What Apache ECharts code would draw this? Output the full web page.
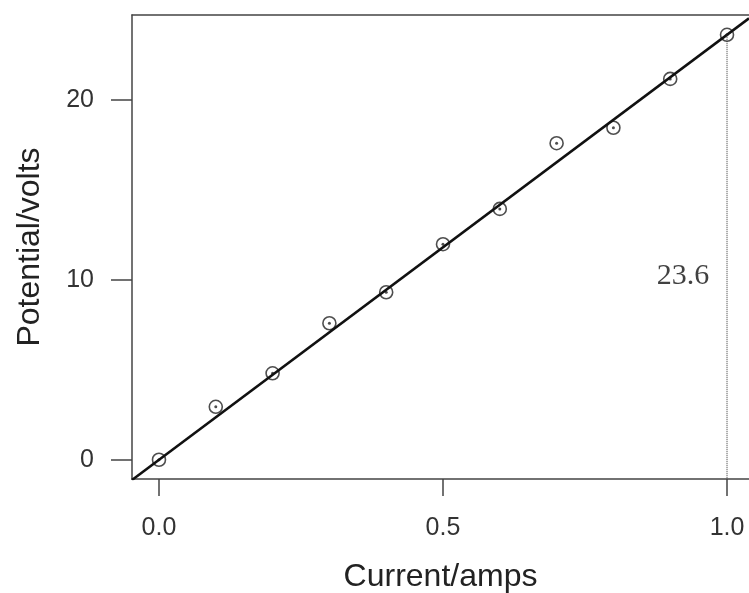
<!DOCTYPE html>
<html lang="en">
<head>
    <meta charset="UTF-8">
    <title>Potential vs current</title>
    <script src="https://cdn.jsdelivr.net/npm/echarts@6/dist/echarts.min.js"></script>
    <style>
        html, body { margin: 0; padding: 0; background: #fff; }
        #chart { width: 749px; height: 593px; }
    </style>
</head>
<body>
    <div id="chart"></div>
    <script>
        // measured data
        var current = [0.0, 0.1, 0.2, 0.3, 0.4, 0.5, 0.6, 0.7, 0.8, 0.9, 1.0];
        var potential = [0.0, 2.94, 4.8, 7.58, 9.3, 11.97, 13.93, 17.58, 18.44, 21.15, 23.6];
        var slope = 23.6;          // fitted line through origin
        var xTicks = [0, 0.5, 1];
        var yTicks = [0, 10, 20];
        var markX = 1.0, markY = 23.6;
        var noteText = '23.6';
        var notePos = [0.9225, 10.2];

        var xMin = -0.0475, xMax = 1.0387;
        var yMin = -1.07, yMax = 24.7;

        var points = current.map(function (x, i) { return [x, potential[i]]; });
        var fitLine = [[xMin, slope * xMin], [xMax, slope * xMax]];
        var dropLine = [[markX, markY], [markX, yMin]];

        var frame = { show: true, onZero: false, lineStyle: { color: '#444', width: 1.5 } };
        var labelFont = { fontFamily: 'Liberation Sans', fontSize: 25, color: '#333' };
        var nameFont = { fontFamily: 'Liberation Sans', fontSize: 32, color: '#222' };

        var chart = echarts.init(document.getElementById('chart'));
        chart.setOption({
            animation: false,
            grid: {
                left: 132, top: 15, right: 0, bottom: 114, show: false,
                outerBoundsMode: 'none', containLabel: false
            },
            xAxis: [{
                type: 'value', min: xMin, max: xMax, position: 'bottom',
                name: 'Current/amps', nameLocation: 'middle', nameGap: 82,
                nameTextStyle: nameFont,
                axisLine: frame,
                splitLine: { show: false },
                axisTick: { show: true, length: 17, customValues: xTicks, lineStyle: { color: '#444', width: 1.5 } },
                axisLabel: Object.assign({
                    customValues: xTicks, margin: 37,
                    formatter: function (v) { return v.toFixed(1); }
                }, labelFont)
            }, {
                // top edge of the box
                type: 'value', min: xMin, max: xMax, position: 'top',
                axisLine: frame, axisTick: { show: false }, axisLabel: { show: false },
                splitLine: { show: false }
            }],
            yAxis: {
                type: 'value', min: yMin, max: yMax,
                name: 'Potential/volts', nameLocation: 'middle', nameGap: 86, nameRotate: 90,
                nameTextStyle: nameFont,
                axisLine: frame,
                splitLine: { show: false },
                axisTick: { show: true, length: 21, customValues: yTicks, lineStyle: { color: '#444', width: 1.5 } },
                axisLabel: Object.assign({
                    customValues: yTicks, margin: 38, padding: [7, 0, 0, 0]
                }, labelFont)
            },
            series: [
                {
                    type: 'line', data: fitLine, symbol: 'none', clip: true,
                    lineStyle: { color: '#111', width: 2.6 }
                },
                {
                    type: 'line', data: dropLine, symbol: 'none',
                    lineStyle: { color: '#333', width: 1, type: 'dotted' }
                },
                {
                    type: 'scatter', data: points, symbol: 'circle', symbolSize: 13,
                    itemStyle: { color: 'rgba(0,0,0,0)', borderColor: '#222', borderWidth: 1.6 }
                },
                {
                    type: 'scatter', data: points, symbol: 'circle', symbolSize: 3,
                    itemStyle: { color: '#222' }
                },
                {
                    type: 'scatter', data: [notePos], symbolSize: 0,
                    label: {
                        show: true, position: 'inside', formatter: noteText,
                        fontFamily: 'Liberation Serif', fontSize: 30, color: '#111'
                    }
                }
            ]
        });
    </script>
</body>
</html>
